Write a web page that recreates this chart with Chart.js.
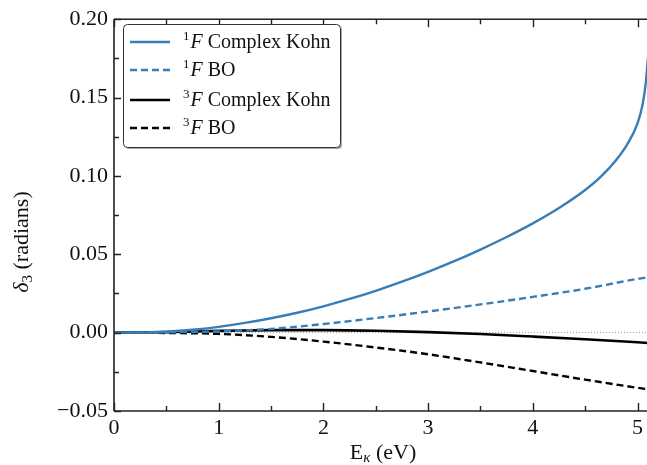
<!DOCTYPE html>
<html>
<head>
<meta charset="utf-8">
<script src="https://cdn.jsdelivr.net/npm/chart.js@4.4.1/dist/chart.umd.min.js"></script>
<style>
  html, body { margin: 0; padding: 0; background: #fff; overflow: hidden; }
  #wrap { width: 647px; height: 465px; overflow: hidden; }
</style>
</head>
<body>
<div id="wrap"><canvas id="phase" width="648" height="465"></canvas></div>
<script>
// phase shifts delta_3 vs incident energy
const kohnE = [0, 0.25, 0.5, 0.75, 1.0, 1.25, 1.5, 1.75, 2.0, 2.25, 2.5, 2.75, 3.0, 3.25, 3.5, 3.75, 4.0, 4.25, 4.5, 4.65, 4.8, 4.9, 5.0, 5.05, 5.08, 5.1];
const kohnSinglet = [0, 0.0001, 0.0006, 0.0018, 0.0037, 0.0062, 0.0092, 0.0127, 0.0168, 0.0215, 0.0267, 0.0325, 0.0388, 0.0456, 0.0530, 0.0610, 0.0697, 0.0795, 0.0910, 0.0995, 0.1105, 0.1200, 0.1335, 0.1460, 0.1600, 0.176];

const gridE = [0, 0.5, 1.0, 1.5, 2.0, 2.5, 3.0, 3.5, 4.0, 4.5, 5.0, 5.1];
const boSinglet = [0, 0.0002, 0.0008, 0.0024, 0.0055, 0.0093, 0.0135, 0.018, 0.0228, 0.028, 0.0343, 0.0353];
const kohnTriplet = [0, 0.0003, 0.0011, 0.0016, 0.0016, 0.0012, 0.0003, -0.0009, -0.0025, -0.0042, -0.0061, -0.0066];
const boTriplet = [0, -0.0002, -0.0008, -0.0027, -0.0057, -0.0095, -0.0138, -0.0190, -0.0245, -0.0300, -0.0352, -0.0362];

const xTicks = [0, 1, 2, 3, 4, 5];
const yTicks = [-0.05, 0, 0.05, 0.10, 0.15, 0.20];

const legendEntries = [
  { sup: '1', rest: ' Complex Kohn', color: '#377eb8', dash: [] },
  { sup: '1', rest: ' BO', color: '#377eb8', dash: [7, 4] },
  { sup: '3', rest: ' Complex Kohn', color: '#000', dash: [] },
  { sup: '3', rest: ' BO', color: '#000', dash: [7, 4] }
];

const BLUE = '#377eb8';
const FONT = '"Liberation Serif", "DejaVu Serif", serif';

const pts = (xs, ys) => xs.map((x, i) => ({ x: x, y: ys[i] }));

// axes frame, inward ticks, titles and the boxed legend
const decorations = {
  id: 'decorations',
  afterDraw(chart) {
    const ctx = chart.ctx;
    const { left, right, top, bottom } = chart.chartArea;
    const xs = chart.scales.x, ys = chart.scales.y;
    ctx.save();
    ctx.strokeStyle = '#222';
    ctx.lineWidth = 1.6;
    ctx.beginPath();
    ctx.moveTo(left, top); ctx.lineTo(right, top);
    ctx.moveTo(left, top); ctx.lineTo(left, bottom);
    ctx.moveTo(left, bottom); ctx.lineTo(right, bottom);
    ctx.stroke();

    ctx.lineWidth = 1.4;
    ctx.beginPath();
    for (let v = 0; v <= 5.1; v += 0.5) {
      const px = Math.round(xs.getPixelForValue(v)) + 0.5;
      const len = Number.isInteger(v) ? 8 : 5;
      ctx.moveTo(px, bottom); ctx.lineTo(px, bottom - len);
      ctx.moveTo(px, top); ctx.lineTo(px, top + len);
    }
    for (let k = -2; k <= 8; k++) {
      const v = k * 0.025;
      const py = Math.round(ys.getPixelForValue(v)) + 0.5;
      const len = k % 2 === 0 ? 7 : 5;
      ctx.moveTo(left, py); ctx.lineTo(left + len, py);
    }
    ctx.stroke();

    // x title: E_kappa (eV)
    ctx.fillStyle = '#111';
    ctx.textBaseline = 'alphabetic';
    ctx.textAlign = 'left';
    const big = '22px ' + FONT, sub = 'italic 15px ' + FONT;
    ctx.font = big;
    const wE = ctx.measureText('E').width;
    const wRest = ctx.measureText(' (eV)').width;
    ctx.font = sub;
    const wK = ctx.measureText('\u03ba').width;
    let x0 = 383 - (wE + wK + wRest) / 2;
    const base = 459;
    ctx.font = big; ctx.fillText('E', x0, base);
    ctx.font = sub; ctx.fillText('\u03ba', x0 + wE, base + 3);
    ctx.font = big; ctx.fillText(' (eV)', x0 + wE + wK, base);

    // y title: delta_3 (radians)
    ctx.save();
    ctx.translate(28, 242);
    ctx.rotate(-Math.PI / 2);
    const ital = 'italic 22px ' + FONT, sub3 = '15px ' + FONT;
    ctx.font = ital;
    const wD = ctx.measureText('\u03b4').width;
    ctx.font = sub3;
    const w3 = ctx.measureText('3').width;
    ctx.font = big;
    const wR = ctx.measureText(' (radians)').width;
    x0 = -(wD + w3 + wR) / 2;
    ctx.font = ital; ctx.fillText('\u03b4', x0, 0);
    ctx.font = sub3; ctx.fillText('3', x0 + wD, 4);
    ctx.font = big; ctx.fillText(' (radians)', x0 + wD + w3, 0);
    ctx.restore();

    // legend box
    const bx = 123.5, by = 24.5, bw = 217, bh = 123, r = 4;
    const box = (x, y) => {
      ctx.beginPath();
      ctx.moveTo(x + r, y);
      ctx.arcTo(x + bw, y, x + bw, y + bh, r);
      ctx.arcTo(x + bw, y + bh, x, y + bh, r);
      ctx.arcTo(x, y + bh, x, y, r);
      ctx.arcTo(x, y, x + bw, y, r);
      ctx.closePath();
    };
    ctx.fillStyle = 'rgba(0,0,0,0.35)';
    box(bx + 1.5, by + 1.5); ctx.fill();
    ctx.fillStyle = '#fff';
    box(bx, by); ctx.fill();
    ctx.strokeStyle = '#333'; ctx.lineWidth = 1;
    box(bx, by); ctx.stroke();

    const rows = [42, 70, 100, 128];
    legendEntries.forEach((e, i) => {
      const y = rows[i];
      ctx.strokeStyle = e.color;
      ctx.lineWidth = e.color === BLUE ? 2.4 : 2.6;
      ctx.setLineDash(e.dash);
      ctx.beginPath(); ctx.moveTo(130, y); ctx.lineTo(170, y); ctx.stroke();
      ctx.setLineDash([]);
      ctx.fillStyle = '#111';
      const tb = y + 6;
      ctx.font = '13px ' + FONT;
      ctx.fillText(e.sup, 183, tb - 8);
      const ws = ctx.measureText(e.sup).width;
      ctx.font = 'italic 20px ' + FONT;
      ctx.fillText('F', 183 + ws + 1, tb);
      const wf = ctx.measureText('F').width;
      ctx.font = '20px ' + FONT;
      ctx.fillText(e.rest, 183 + ws + 1 + wf, tb);
    });
    ctx.restore();
  }
};

const line = (label, data, color, width, dash) => ({
  label: label,
  data: data,
  borderColor: color,
  borderWidth: width,
  borderDash: dash,
  pointRadius: 0,
  fill: false,
  cubicInterpolationMode: 'monotone'
});

new Chart(document.getElementById('phase'), {
  type: 'line',
  data: {
    datasets: [
      line('1F Complex Kohn', pts(kohnE, kohnSinglet), BLUE, 2.4, []),
      line('1F BO', pts(gridE, boSinglet), BLUE, 2.4, [7, 4]),
      line('3F Complex Kohn', pts(gridE, kohnTriplet), '#000', 2.6, []),
      line('3F BO', pts(gridE, boTriplet), '#000', 2.4, [7, 4]),
      Object.assign(line('zero', pts([0, 5.1], [0, 0]), '#999', 1, [1, 2]), { order: 10 })
    ]
  },
  options: {
    responsive: false,
    devicePixelRatio: 1,
    animation: false,
    clip: false,
    layout: { padding: { top: 15, right: 0, left: 0, bottom: 0 } },
    plugins: { legend: { display: false }, tooltip: { enabled: false } },
    scales: {
      x: {
        type: 'linear',
        min: 0, max: 5.1,
        grid: { display: false, drawTicks: false, tickLength: 0 },
        border: { display: false },
        afterBuildTicks: s => { s.ticks = xTicks.map(v => ({ value: v })); },
        afterFit: s => { s.height = 54; },
        ticks: {
          padding: 4,
          color: '#111',
          font: { family: FONT, size: 22 },
          maxRotation: 0,
          callback: v => String(v)
        }
      },
      y: {
        type: 'linear',
        min: -0.05, max: 0.2,
        grid: { display: false, drawTicks: false, tickLength: 0 },
        border: { display: false },
        afterBuildTicks: s => { s.ticks = yTicks.map(v => ({ value: v })); },
        afterFit: s => { s.width = 114; },
        ticks: {
          padding: 6,
          color: '#111',
          font: { family: FONT, size: 22 },
          callback: v => (v < -1e-9 ? '\u2212' : '') + Math.abs(v).toFixed(2)
        }
      }
    }
  },
  plugins: [decorations]
});
</script>
</body>
</html>
